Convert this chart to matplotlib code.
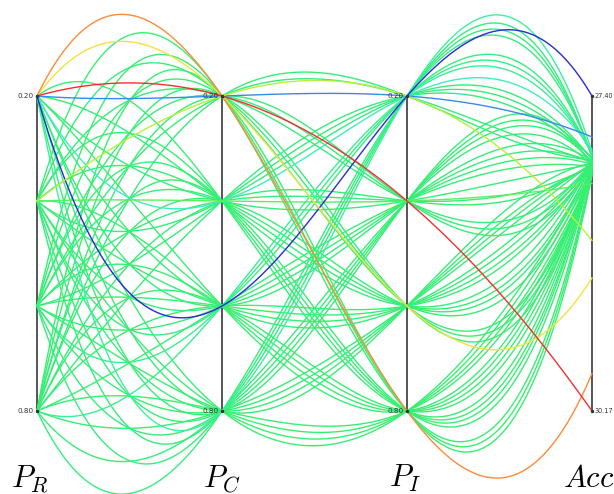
from itertools import product

import numpy as np
from matplotlib import pyplot as plt
from matplotlib.colors import LinearSegmentedColormap

plt.rcParams['mathtext.fontset'] = 'cm'

# parameter levels shared by the three P axes
levels = [0.20, 0.40, 0.60, 0.80]
acc_min, acc_max = 27.40, 30.17
axis_names = [r'$P_R$', r'$P_C$', r'$P_I$', r'$Acc$']

# accuracy for every (P_R, P_C) row, columns are P_I = 0.2 .. 0.8
acc = [
    [27.76, 30.17, 29.00, 29.84],
    [27.87, 28.00, 27.98, 28.02],
    [27.40, 27.97, 28.01, 28.04],
    [27.89, 28.01, 27.99, 28.05],
    [28.67, 27.98, 28.02, 28.06],
    [27.96, 28.17, 28.00, 28.03],
    [27.92, 27.99, 28.01, 28.04],
    [27.94, 28.00, 28.03, 28.07],
    [27.97, 27.99, 28.01, 28.08],
    [27.95, 28.01, 27.98, 28.02],
    [27.91, 28.00, 28.02, 28.05],
    [27.93, 27.98, 28.00, 28.09],
    [27.96, 28.00, 28.03, 28.10],
    [27.94, 27.99, 28.01, 28.04],
    [27.90, 28.02, 28.00, 28.06],
    [27.92, 28.01, 27.99, 28.08],
]

cmap = LinearSegmentedColormap.from_list('acc', [
    (0.00, '#2a2ad8'), (0.12, '#2f6ff0'), (0.16, '#44e6ea'),
    (0.175, '#3cf0a4'), (0.19, '#33ee7a'), (0.25, '#38ef70'),
    (0.30, '#70f054'), (0.46, '#b8f03a'), (0.58, '#f8e040'),
    (0.88, '#ff8c3a'), (1.00, '#f03030')])


def norm_p(v):
    return (v - levels[0]) / (levels[-1] - levels[0])


def norm_acc(v):
    return (v - acc_min) / (acc_max - acc_min)


rows = []
for (r, c), row in zip(product(levels, levels), acc):
    for i, a in zip(levels, row):
        rows.append((r, c, i, a))
# greens underneath, outliers on top
rows.sort(key=lambda t: abs(norm_acc(t[3]) - 0.21))

fig = plt.figure(figsize=(6.14, 4.94), dpi=100)
ax = fig.add_axes([37 / 614, 83 / 494, 555 / 614, 315 / 494])
ax.set_xlim(0, 3)
ax.set_ylim(1, 0)
ax.axis('off')

xs = np.linspace(0, 3, 300)
axis_x = np.arange(4)
for r, c, i, a in rows:
    ys = [norm_p(r), norm_p(c), norm_p(i), norm_acc(a)]
    coef = np.polyfit(axis_x, ys, 3)
    ax.plot(xs, np.polyval(coef, xs), color=cmap(norm_acc(a)), lw=1.0,
            clip_on=False, zorder=2)

tick_kw = dict(va='center', fontsize=5.2, color='#333333', zorder=4)
for k in range(4):
    ax.plot([k, k], [0, 1], color='#555555', lw=1.4, zorder=1, clip_on=False)
    ax.plot([k, k], [0, 1], 'o', color='#333333', ms=1.5, zorder=3, clip_on=False)
    if k < 3:
        ax.text(k - 0.02, 0, f'{levels[0]:.2f}', ha='right', **tick_kw)
        ax.text(k - 0.02, 1, f'{levels[-1]:.2f}', ha='right', **tick_kw)
    else:
        ax.text(k + 0.012, 0, f'{acc_min:.2f}', ha='left', **dict(tick_kw, fontsize=4.7))
        ax.text(k + 0.012, 1, f'{acc_max:.2f}', ha='left', **dict(tick_kw, fontsize=4.7))

for name, cx in zip(axis_names, [30, 222, 405, 589]):
    fig.text(cx / 614, 7 / 494, name, ha='center', va='baseline', fontsize=22)

fig.savefig('out.png', dpi=100)
